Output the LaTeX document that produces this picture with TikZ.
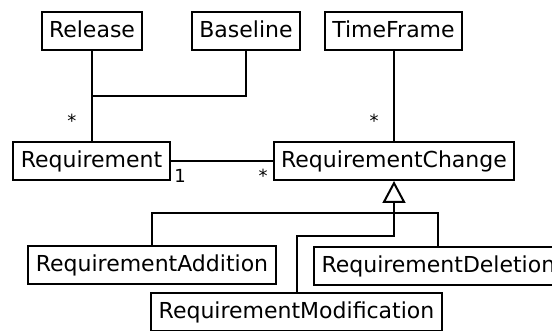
\documentclass[tikz,border=0pt]{standalone}
\usepackage{fontspec}
\setmainfont{DejaVu Sans}
\usepackage{tikz}
\usetikzlibrary{arrows.meta, positioning, calc}

\begin{document}
\begin{tikzpicture}[
      x=0.5pt, y=-0.5pt,
      cls/.style={rectangle, draw=black, line width=1pt, fill=white,
                  inner xsep=3.75pt, inner ysep=0pt, text height=13pt,
                  text depth=6pt, font=\fontsize{11}{13}\selectfont},
      assoc/.style={line width=1pt},
      gen/.style={line width=1pt, -{Triangle[open, length=11pt, width=11.5pt, line width=1pt]}},
      mult/.style={inner sep=0pt, font=\fontsize{9}{10}\selectfont}
    ]
    \clip (0,0) rectangle (552,331);

    % top row
    \node[cls] (rel)  at (92,31)    {Release};
    \node[cls] (base) at (246,31)   {Baseline};
    \node[cls] (tf)   at (393.5,31) {TimeFrame};

    % middle row
    \node[cls] (req)  at (91.5,161) {Requirement};
    \node[cls] (rc)   at (394,161)  {RequirementChange};

    % subclasses
    \node[cls] (add)  at (152,265)            {RequirementAddition};
    \node[cls, anchor=west] (del) at (313,266) {RequirementDeletion};
    \node[cls] (mod)  at (296.5,312)          {RequirementModification};

    \coordinate (hbar)  at (394,213);
    \coordinate (mbend) at (394,236);

    % associations
    \draw[assoc] (rel.south) -- (rel.south |- req.north);
    \draw[assoc] (base.south) |- ($(rel.south)!0.5!(rel.south |- req.north)$) -- (rel.south |- req.north);
    \draw[assoc] (tf.south) -- (tf.south |- rc.north);
    \draw[assoc] (req.east) -- (rc.west);

    \node[mult] (m1) at (72,121)  {*};
    \node[mult] (m2) at (374,121) {*};
    \node[mult] (m3) at (180,176) {1};
    \node[mult] (m4) at (263,176) {*};

    % generalization
    \draw[assoc] (add.north) |- (hbar) -| (del.north);
    \draw[gen] (mod.north) |- (mbend) -- (rc.south);
  \end{tikzpicture}
\end{document}
